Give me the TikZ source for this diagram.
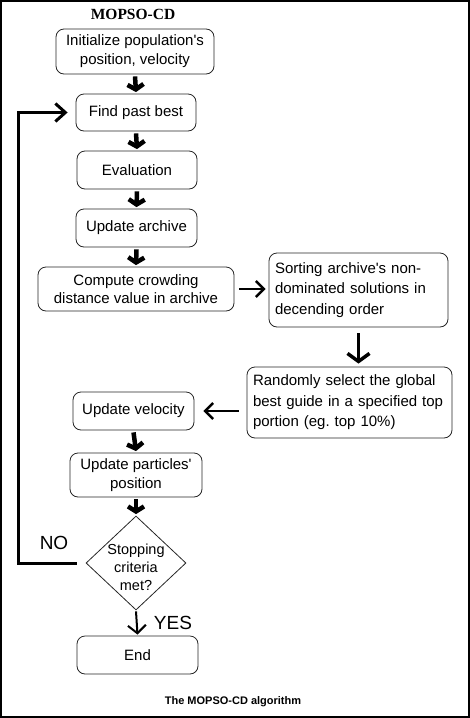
\documentclass[tikz,border=0pt]{standalone}
\usepackage{fontspec}
\setmainfont{Liberation Sans}[Ligatures=TeXOff]
\newfontfamily\titlefont{Liberation Serif}
\usetikzlibrary{arrows.meta,shapes.geometric}
\frenchspacing
\begin{document}
\begin{tikzpicture}[x=1pt,y=-1pt,
  box/.style={draw=black!85, line width=0.8pt, rounded corners=8pt, align=center,
    font=\fontsize{15}{19}\selectfont, inner sep=0pt},
  lbox/.style={box, align=left},
  fatarrow/.style={line width=4.5pt, -{Straight Barb[length=5pt,width=16pt]}},
  longarrow/.style={line width=3.5pt, -{Straight Barb[length=8pt,width=22pt]}},
  sidearrow/.style={line width=2.4pt, -{Straight Barb[length=8pt,width=16pt]}},
  looparrow/.style={line width=3pt, -{Straight Barb[length=10pt,width=18pt]}},
  yesarrow/.style={line width=2pt, -{Straight Barb[length=8pt,width=18pt]}},
  lbl/.style={font=\fontsize{19}{22}\selectfont, inner sep=0pt}
]
\useasboundingbox (0,0) rectangle (470,718);
\draw[line width=2pt] (1,1) rectangle (469,717);

\node[font=\titlefont\bfseries\fontsize{15.5}{18}\selectfont, inner sep=0pt] (title) at (133,14) {MOPSO-CD};

\node[box, minimum width=158pt, minimum height=45pt] (init) at (135,51.5) {Initialize population's\\position, velocity};
\node[box, minimum width=120pt, minimum height=37pt] (find) at (136,112.5) {Find past best};
\node[box, minimum width=120pt, minimum height=38pt] (eval) at (137,170) {Evaluation};
\node[box, minimum width=121pt, minimum height=38pt] (arch) at (136.5,228) {Update archive};
\node[box, minimum width=196pt, minimum height=44pt, font=\fontsize{15}{18}\selectfont] (comp) at (136,289) {Compute crowding\\distance value in archive};
\node[lbox, minimum width=179pt, minimum height=74pt, text width=167pt, font=\fontsize{15}{20.5}\selectfont] (sort) at (358.5,290) {Sorting archive's non-\\dominated solutions in\\decending order};
\node[lbox, minimum width=205pt, minimum height=71pt, text width=193pt, font=\fontsize{15}{20.5}\selectfont] (rand) at (349.5,402.5) {Randomly select the global\\best guide in a specified top\\portion (eg. top 10\%)};
\node[box, minimum width=121pt, minimum height=38pt] (vel) at (133.5,411) {Update velocity};
\node[box, minimum width=132pt, minimum height=44pt, font=\fontsize{15}{19}\selectfont] (pos) at (136,475) {Update particles'\\position};
\node[diamond, draw=black!85, line width=0.8pt, minimum width=100pt, minimum height=94pt, inner sep=0pt] (stop) at (136,563) {};
\node[align=center, font=\fontsize{14.5}{18}\selectfont, inner sep=0pt] (stoptext) at (136,567) {Stopping\\criteria\\met?};
\node[box, minimum width=121pt, minimum height=38pt] (end) at (137.5,655) {End};

\node[lbl] (no) at (54,543) {NO};
\node[lbl] (yes) at (173,623) {YES};
\node[font=\bfseries\fontsize{11}{13}\selectfont, inner sep=0pt] (cap) at (233,702) {The MOPSO-CD algorithm};

\draw[fatarrow] ([yshift=-2pt]init.south) -- ([yshift=1.5pt]find.north);
\draw[fatarrow] ([yshift=-2pt]find.south) -- ([yshift=1.5pt]eval.north);
\draw[fatarrow] ([yshift=-2pt]eval.south) -- ([yshift=1.5pt]arch.north);
\draw[fatarrow] ([yshift=-2pt]arch.south) -- ([yshift=1.5pt]comp.north);
\draw[fatarrow] ([yshift=-2pt]vel.south) -- ([yshift=1.5pt]pos.north);
\draw[fatarrow] ([yshift=-2pt]pos.south) -- ([yshift=1.5pt]stop.north);
\draw[longarrow] ([yshift=-6pt]sort.south) -- ([yshift=3pt]sort.south |- rand.north);
\draw[sidearrow] ([xshift=5pt]comp.east) -- ([xshift=-3pt]sort.west |- comp.east);
\draw[sidearrow] ([xshift=-8pt]rand.west |- vel.east) -- ([xshift=9pt]vel.east);
\draw[yesarrow] ([yshift=-1pt]stop.south) -- ([yshift=1pt]end.north);
\coordinate (loopstart) at ([xshift=-9pt]stop.west);
\coordinate (loopcorner) at (18,563);
\draw[looparrow, line cap=butt] (loopstart) -- (loopcorner) -- (loopcorner |- find.west) -- ([xshift=-8pt]find.west);
\end{tikzpicture}
\end{document}
